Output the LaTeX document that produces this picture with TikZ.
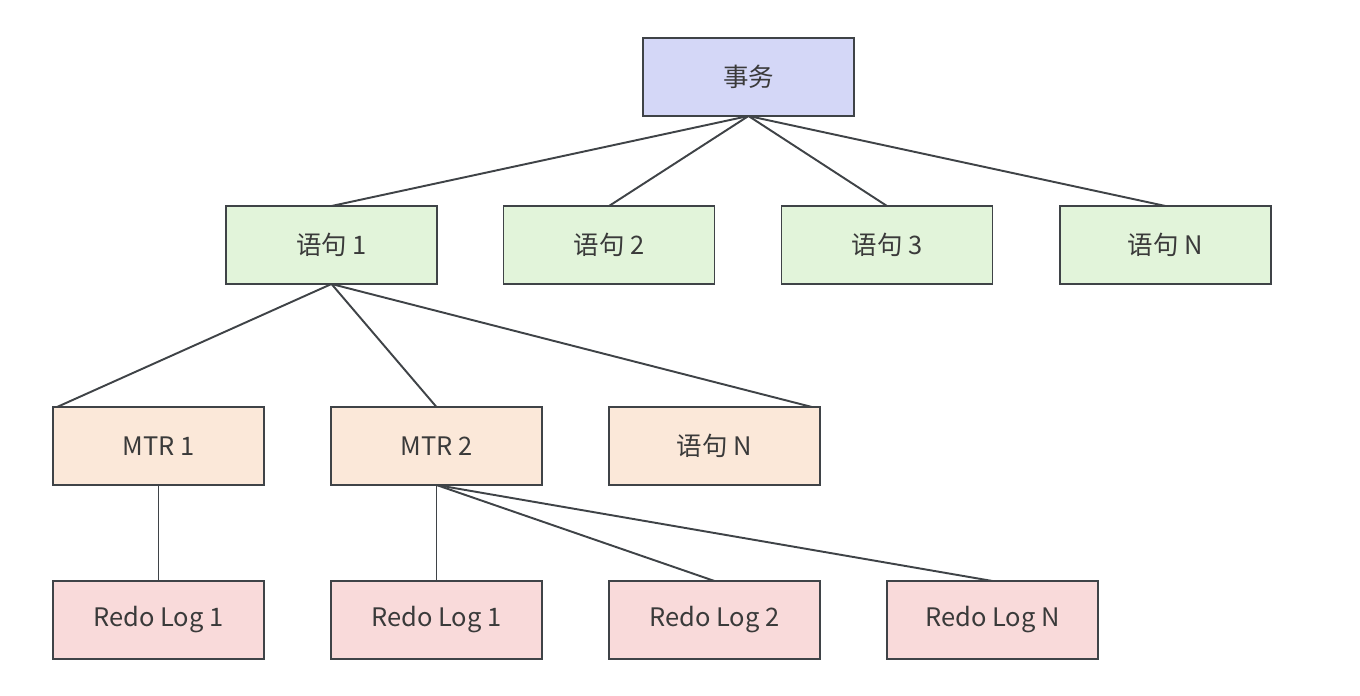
\documentclass[tikz,border=0pt]{standalone}
\usepackage{fontspec}
\usepackage{xcolor}
\setmainfont{Noto Sans CJK SC}
\definecolor{BoxPurple}{HTML}{D4D7F7}
\definecolor{BoxGreen}{HTML}{E2F4DA}
\definecolor{BoxOrange}{HTML}{FBE8D9}
\definecolor{BoxPink}{HTML}{F9DADA}
\definecolor{EdgeGray}{HTML}{3F4347}
\definecolor{TextGray}{HTML}{3A3A3A}
\tikzset{
  box/.style={draw=EdgeGray,line width=1.1pt,minimum width=4.22cm,minimum height=1.56cm,
    inner sep=0pt,outer sep=0pt,text=TextGray,font=\fontsize{14.5}{17}\selectfont},
  link/.style={draw=EdgeGray,line width=1.1pt}
}

\begin{document}
\begin{tikzpicture}[x=0.02cm,y=-0.02cm]
  \useasboundingbox (0,0) rectangle (1360,696);

  \node[box,fill=BoxPurple] (tx) at (748.5,77) {事务};

  \node[box,fill=BoxGreen] (s1) at (331.5,245) {语句 1};
  \node[box,fill=BoxGreen] (s2) at (609,245) {语句 2};
  \node[box,fill=BoxGreen] (s3) at (887,245) {语句 3};
  \node[box,fill=BoxGreen] (sN) at (1165.5,245) {语句 N};

  \node[box,fill=BoxOrange] (m1) at (158.5,446) {MTR 1};
  \node[box,fill=BoxOrange] (m2) at (436.5,446) {MTR 2};
  \node[box,fill=BoxOrange] (mN) at (714.5,446) {语句 N};

  \node[box,fill=BoxPink] (r1) at (158.5,620) {Redo Log 1};
  \node[box,fill=BoxPink] (r2) at (436.5,620) {Redo Log 1};
  \node[box,fill=BoxPink] (r3) at (714.5,620) {Redo Log 2};
  \node[box,fill=BoxPink] (rN) at (992.5,620) {Redo Log N};

  \foreach \s in {s1,s2,s3,sN} {
    \draw[link] (tx.south) -- (\s.north);
  }
  \draw[link] (s1.south) -- ([xshift=0.08cm]m1.north west);
  \draw[link] (s1.south) -- (m2.north);
  \draw[link] (s1.south) -- ([xshift=-0.16cm]mN.north east);

  \draw[link] (m1.south) -- (r1.north);
  \foreach \r in {r2,r3,rN} {
    \draw[link] (m2.south) -- (\r.north);
  }
\end{tikzpicture}
\end{document}
